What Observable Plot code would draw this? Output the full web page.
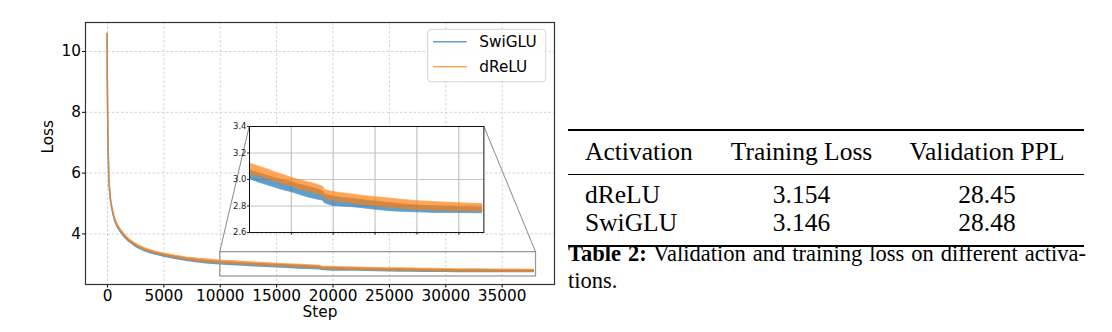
<!DOCTYPE html>
<html>
<head>
<meta charset="utf-8">
<script src="https://cdn.jsdelivr.net/npm/d3@7"></script>
<script src="https://cdn.jsdelivr.net/npm/@observablehq/plot@0.6"></script>
<style>
  html, body { margin: 0; padding: 0; background: #fff; }
  #wrap { position: relative; width: 1112px; height: 332px; overflow: hidden; }
  #main { position: absolute; left: 0; top: 0; }
  #inset { position: absolute; }
  .t { position: absolute; font-family: "Liberation Serif", "Times New Roman", serif; color: #000; white-space: nowrap; }
  .row { font-size: 25.5px; line-height: 25.5px; }
  .cap { font-size: 22.5px; line-height: 22.5px; }
  .rule { position: absolute; background: #000; left: 568px; width: 516px; }
</style>
</head>
<body>
<div id="wrap">
  <div id="main"></div>
  <div id="inset"></div>
</div>
<script>
// ---------- data ----------
const steps = [0, 30, 60, 100, 180, 300, 420, 550, 700, 900, 1150, 1500, 1900, 2400, 2800, 3400, 4000, 5000, 6000, 7000, 8000, 9000,
  10000, 11000, 12000, 13000, 14000, 15000, 16000, 17000, 18000, 18800, 19000, 20000, 21000, 22000, 23000, 24000, 25000, 26000,
  27000, 28000, 29000, 30000, 31000, 32000, 33000, 34000, 35000, 36000, 37000, 37800];
const dreluHi = [10.58, 9.0, 7.9, 6.8, 5.68, 5.17, 4.90, 4.67, 4.47, 4.30, 4.15, 3.98, 3.83, 3.70, 3.61, 3.51, 3.44, 3.35, 3.28, 3.22, 3.18, 3.15,
  3.12, 3.10, 3.08, 3.055, 3.035, 3.013, 2.995, 2.98, 2.963, 2.945, 2.92, 2.905, 2.897, 2.889, 2.88, 2.873, 2.866, 2.86,
  2.854, 2.848, 2.842, 2.836, 2.833, 2.83, 2.827, 2.824, 2.82, 2.818, 2.816, 2.815];
const dreluLo = [10.58, 9.0, 7.9, 6.8, 5.66, 5.14, 4.87, 4.64, 4.43, 4.26, 4.11, 3.94, 3.79, 3.65, 3.56, 3.46, 3.39, 3.30, 3.22, 3.16, 3.11, 3.08,
  3.04, 3.025, 3.005, 2.985, 2.965, 2.947, 2.925, 2.91, 2.893, 2.875, 2.855, 2.84, 2.83, 2.822, 2.813, 2.805, 2.798, 2.792,
  2.786, 2.78, 2.776, 2.772, 2.769, 2.766, 2.764, 2.762, 2.76, 2.759, 2.758, 2.757];
const swigluHi = [10.58, 8.95, 7.85, 6.75, 5.64, 5.13, 4.86, 4.63, 4.43, 4.26, 4.11, 3.94, 3.79, 3.66, 3.57, 3.47, 3.40, 3.31, 3.24, 3.18, 3.13, 3.10,
  3.07, 3.05, 3.03, 3.01, 2.995, 2.98, 2.96, 2.945, 2.928, 2.91, 2.885, 2.87, 2.862, 2.855, 2.848, 2.84, 2.833, 2.826,
  2.82, 2.814, 2.808, 2.803, 2.80, 2.797, 2.795, 2.793, 2.791, 2.79, 2.789, 2.788];
const swigluLo = [10.58, 8.95, 7.85, 6.75, 5.62, 5.10, 4.83, 4.60, 4.39, 4.22, 4.07, 3.90, 3.75, 3.61, 3.52, 3.42, 3.35, 3.26, 3.18, 3.12, 3.07, 3.03,
  3.005, 2.98, 2.96, 2.94, 2.92, 2.905, 2.885, 2.865, 2.85, 2.84, 2.82, 2.80, 2.797, 2.793, 2.787, 2.78, 2.772, 2.766,
  2.76, 2.757, 2.755, 2.752, 2.75, 2.748, 2.747, 2.747, 2.747, 2.746, 2.745, 2.745];

const seriesNames = ["SwiGLU", "dReLU"];
const seriesColors = ["#1f77b4", "#ff7f0e"];
const xTicks = [0, 5000, 10000, 15000, 20000, 25000, 30000, 35000];
const yTicks = [4, 6, 8, 10];
const insetXTicks = [15000, 20000, 25000, 30000, 35000];
const insetYTicks = [2.6, 2.8, 3.0, 3.2, 3.4];
const zoomX = [10000, 38000];
const zoomY = [2.6, 3.4];
const xLabel = "Step";
const yLabel = "Loss";

const tableHeader = ["Activation", "Training Loss", "Validation PPL"];
const tableRows = [["dReLU", "3.154", "28.45"], ["SwiGLU", "3.146", "28.48"]];
const captionBold = "Table 2:";
const captionLine1 = " Validation and training loss on different activa-";
const captionLine2 = "tions.";

// ---------- build ----------
const swiglu = steps.map((s, i) => ({step: s, lo: swigluLo[i], hi: swigluHi[i]}));
const drelu = steps.map((s, i) => ({step: s, lo: dreluLo[i], hi: dreluHi[i]}));

const gridStyle = {stroke: "#b0b0b0", strokeOpacity: 0.7, strokeWidth: 0.8, strokeDasharray: "2.5,2"};

const main = Plot.plot({
  width: 556, height: 332,
  marginLeft: 85, marginRight: 2, marginTop: 22, marginBottom: 48,
  x: {domain: [-1950, 39640]},
  y: {domain: [2.336, 10.955]},
  style: {fontFamily: "DejaVu Sans", fontSize: "15.3px", background: "transparent", color: "#000"},
  marks: [
    Plot.gridX(xTicks, gridStyle),
    Plot.gridY(yTicks, gridStyle),
    Plot.areaY(swiglu, {x: "step", y1: "lo", y2: "hi", fill: seriesColors[0], stroke: seriesColors[0], strokeWidth: 1.5, opacity: 0.7}),
    Plot.areaY(drelu, {x: "step", y1: "lo", y2: "hi", fill: seriesColors[1], stroke: seriesColors[1], strokeWidth: 1.5, opacity: 0.7}),
    Plot.rect([{x1: zoomX[0], x2: zoomX[1], y1: zoomY[0], y2: zoomY[1]}],
      {x1: "x1", x2: "x2", y1: "y1", y2: "y2", fill: "none", stroke: "#9a9a9a", strokeWidth: 1.3}),
    Plot.axisX(xTicks, {tickSize: 3.5, tickPadding: 2.5, tickFormat: "d", label: null}),
    Plot.axisY(yTicks, {tickSize: 3, tickPadding: 1.5, tickFormat: "d", label: null}),
    Plot.frame({stroke: "#333", strokeWidth: 1.2}),
    Plot.text([xLabel], {frameAnchor: "bottom", lineAnchor: "top", dy: 22, text: d => d}),
    Plot.text([yLabel], {frameAnchor: "left", dx: -37, rotate: -90, text: d => d})
  ]
});
document.getElementById("main").appendChild(main);

// inset
const inL = 249.3, inT = 126, inW = 234.4, inH = 106;
const inML = 22, inMT = 4, inMR = 4, inMB = 6;
const inset = Plot.plot({
  width: inW + inML + inMR, height: inH + inMT + inMB,
  marginLeft: inML, marginTop: inMT, marginRight: inMR, marginBottom: inMB,
  x: {domain: zoomX},
  y: {domain: zoomY},
  style: {fontFamily: "DejaVu Sans", fontSize: "8.5px", background: "transparent", color: "#222"},
  marks: [
    Plot.frame({fill: "white", stroke: "none"}),
    Plot.gridX(insetXTicks, {stroke: "#c4c4c4", strokeOpacity: 1, strokeWidth: 1.2}),
    Plot.gridY(insetYTicks, {stroke: "#c4c4c4", strokeOpacity: 1, strokeWidth: 1.2}),
    Plot.areaY(swiglu, {x: "step", y1: "lo", y2: "hi", fill: seriesColors[0], stroke: seriesColors[0], strokeWidth: 0.8, opacity: 0.7, clip: true}),
    Plot.areaY(drelu, {x: "step", y1: "lo", y2: "hi", fill: seriesColors[1], stroke: seriesColors[1], strokeWidth: 0.8, opacity: 0.7, clip: true}),
    Plot.axisY(insetYTicks, {tickSize: 2, tickPadding: 1, tickFormat: ".1f", label: null}),
    Plot.axisX(insetXTicks, {tickSize: 2.5, tickFormat: () => "", label: null, stroke: "#000"}),
    Plot.frame({stroke: "#111", strokeWidth: 1})
  ]
});
const insetDiv = document.getElementById("inset");
insetDiv.style.left = (inL - inML) + "px";
insetDiv.style.top = (inT - inMT) + "px";
insetDiv.appendChild(inset);

// connectors + legend drawn into main svg
const sx = main.scale("x"), sy = main.scale("y");
const svg = d3.select(main);
const conn = svg.append("g").attr("stroke", "#888").attr("stroke-width", 1).attr("fill", "none");
conn.append("line").attr("x1", sx.apply(zoomX[0])).attr("y1", sy.apply(zoomY[1])).attr("x2", inL).attr("y2", inT);
conn.append("line").attr("x1", sx.apply(zoomX[1])).attr("y1", sy.apply(zoomY[1])).attr("x2", inL + inW).attr("y2", inT);

const lg = svg.append("g").attr("transform", "translate(427.7,29.3)");
lg.append("rect").attr("width", 118).attr("height", 52.4).attr("rx", 3.5)
  .attr("fill", "white").attr("fill-opacity", 0.85).attr("stroke", "#d4d4d4").attr("stroke-width", 1);
seriesNames.forEach((name, i) => {
  const y = 12.4 + i * 25;
  lg.append("line").attr("x1", 5.3).attr("x2", 39).attr("y1", y).attr("y2", y)
    .attr("stroke", seriesColors[i]).attr("stroke-width", 1.6).attr("stroke-opacity", 0.7);
  lg.append("text").attr("x", 51.6).attr("y", y).attr("dy", "0.35em")
    .attr("text-anchor", "start").style("text-anchor", "start")
    .attr("font-size", "15.3px").attr("fill", "#000").text(name);
});

// table (HTML text)
const wrap = document.getElementById("wrap");
function addDiv(cls, css, html) {
  const d = document.createElement("div");
  d.className = cls;
  d.style.cssText = css;
  d.innerHTML = html;
  wrap.appendChild(d);
  return d;
}
addDiv("rule", "top:129px;height:2px;", "");
addDiv("rule", "top:173.5px;height:1.2px;", "");
addDiv("rule", "top:244.7px;height:2px;", "");
const colX = [585, 801.5, 987];
const rowTops = [138.6, 182, 210.3];
[tableHeader, ...tableRows].forEach((row, r) => {
  row.forEach((txt, c) => {
    if (c === 0) addDiv("t row", `left:${colX[0]}px;top:${rowTops[r]}px;`, txt);
    else addDiv("t row", `left:${colX[c] - 110}px;width:220px;text-align:center;top:${rowTops[r]}px;`, txt);
  });
});
addDiv("t cap", "left:568px;width:518px;top:242.9px;text-align:justify;text-align-last:justify;white-space:normal;",
  `<b>${captionBold}</b>${captionLine1}`);
addDiv("t cap", "left:568px;top:269.5px;", captionLine2);
</script>
</body>
</html>
